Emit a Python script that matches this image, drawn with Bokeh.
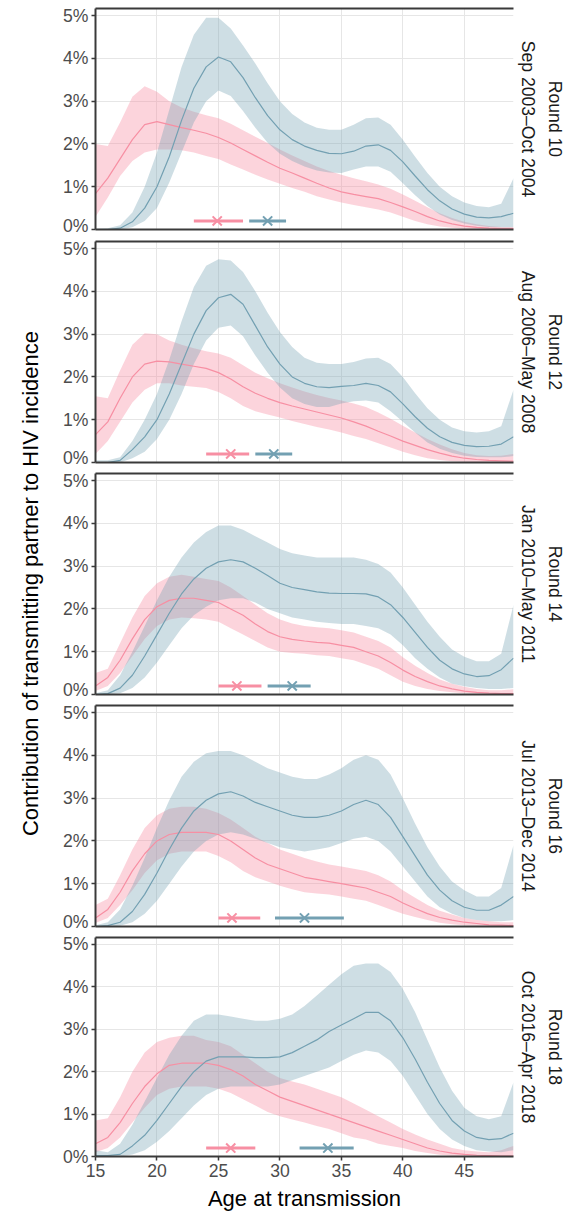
from math import pi

from bokeh.plotting import figure
from bokeh.layouts import column, row
from bokeh.models import FixedTicker, PrintfTickFormatter, LinearAxis, Title, Range1d
from bokeh.core.properties import value
from bokeh.embed import file_html
from bokeh.resources import INLINE

# Age grid (years) shared by every curve
ages = list(range(15, 50))

# Facet labels
round_names = ["Round 10", "Round 12", "Round 14", "Round 16", "Round 18"]
round_periods = ["Sep 2003\u2013Oct 2004", "Aug 2006\u2013May 2008", "Jan 2010\u2013May 2011",
                 "Jul 2013\u2013Dec 2014", "Oct 2016\u2013Apr 2018"]

y_title = "Contribution of transmitting partner to HIV incidence"
x_title = "Age at transmission"

# Contribution (%) by age: women (pink) median / lower / upper, men (blue) median / lower / upper
r10_f_mid = [0.84, 1.2, 1.65, 2.1, 2.45, 2.52, 2.45, 2.38, 2.32, 2.25, 2.15, 2.02, 1.87, 1.72, 1.57, 1.43, 1.32, 1.2,
             1.08, 0.97, 0.88, 0.82, 0.77, 0.72, 0.63, 0.53, 0.42, 0.3, 0.2, 0.13, 0.08, 0.05, 0.03, 0.02, 0.02]
r10_f_lo = [0.3, 0.75, 1.25, 1.6, 1.8, 1.87, 1.87, 1.85, 1.8, 1.72, 1.65, 1.52, 1.4, 1.28, 1.17, 1.07, 0.97, 0.88,
            0.78, 0.7, 0.63, 0.57, 0.52, 0.47, 0.4, 0.3, 0.2, 0.12, 0.07, 0.04, 0.02, 0.01, 0.0, 0.0, 0.0]
r10_f_hi = [2.0, 1.95, 2.5, 3.1, 3.35, 3.22, 3.0, 2.85, 2.75, 2.67, 2.6, 2.47, 2.32, 2.17, 2.02, 1.87, 1.73, 1.6,
            1.47, 1.37, 1.28, 1.2, 1.13, 1.05, 0.95, 0.82, 0.67, 0.52, 0.38, 0.27, 0.18, 0.12, 0.08, 0.06, 0.06]
r10_m_mid = [0.0, 0.0, 0.03, 0.18, 0.5, 1.0, 1.7, 2.55, 3.3, 3.8, 4.03, 3.92, 3.55, 3.08, 2.66, 2.33, 2.1, 1.95,
             1.85, 1.78, 1.77, 1.83, 1.95, 1.98, 1.85, 1.58, 1.25, 0.93, 0.67, 0.48, 0.36, 0.29, 0.27, 0.3, 0.38]
r10_m_lo = [0.0, 0.0, 0.0, 0.05, 0.2, 0.5, 1.1, 1.8, 2.5, 3.0, 3.25, 3.12, 2.77, 2.38, 2.03, 1.77, 1.6, 1.47,
            1.38, 1.33, 1.32, 1.4, 1.47, 1.47, 1.35, 1.08, 0.8, 0.55, 0.35, 0.22, 0.14, 0.09, 0.06, 0.05, 0.05]
r10_m_hi = [0.02, 0.03, 0.1, 0.4, 1.0, 1.8, 2.8, 3.8, 4.55, 4.95, 4.95, 4.7, 4.3, 3.88, 3.42, 3.0, 2.7, 2.5,
            2.38, 2.33, 2.33, 2.45, 2.6, 2.62, 2.45, 2.1, 1.7, 1.32, 1.0, 0.78, 0.63, 0.55, 0.52, 0.6, 1.2]

r12_f_mid = [0.65, 0.95, 1.5, 2.0, 2.3, 2.37, 2.35, 2.3, 2.25, 2.2, 2.1, 1.95, 1.77, 1.62, 1.5, 1.4, 1.32, 1.25,
             1.18, 1.11, 1.04, 0.95, 0.85, 0.73, 0.62, 0.5, 0.4, 0.3, 0.22, 0.15, 0.1, 0.07, 0.05, 0.04, 0.03]
r12_f_lo = [0.2, 0.5, 0.95, 1.4, 1.7, 1.85, 1.85, 1.8, 1.77, 1.74, 1.65, 1.5, 1.32, 1.2, 1.12, 1.05, 0.97, 0.9,
            0.83, 0.77, 0.7, 0.62, 0.55, 0.45, 0.35, 0.25, 0.17, 0.1, 0.06, 0.03, 0.02, 0.01, 0.0, 0.0, 0.0]
r12_f_hi = [1.55, 1.5, 2.15, 2.75, 3.02, 3.0, 2.85, 2.75, 2.67, 2.6, 2.55, 2.45, 2.27, 2.1, 1.97, 1.85, 1.75, 1.66,
            1.58, 1.51, 1.45, 1.38, 1.3, 1.17, 1.02, 0.86, 0.7, 0.55, 0.42, 0.31, 0.22, 0.17, 0.15, 0.16, 0.2]
r12_m_mid = [0.0, 0.0, 0.05, 0.3, 0.6, 1.0, 1.6, 2.3, 3.0, 3.55, 3.85, 3.93, 3.7, 3.2, 2.7, 2.3, 2.0, 1.85,
             1.77, 1.75, 1.78, 1.8, 1.85, 1.8, 1.65, 1.37, 1.07, 0.8, 0.6, 0.47, 0.4, 0.37, 0.38, 0.43, 0.6]
r12_m_lo = [0.0, 0.0, 0.0, 0.1, 0.25, 0.55, 1.0, 1.6, 2.3, 2.85, 3.15, 3.2, 2.95, 2.5, 2.1, 1.75, 1.5, 1.37,
            1.3, 1.3, 1.38, 1.43, 1.45, 1.4, 1.2, 0.95, 0.7, 0.47, 0.32, 0.22, 0.16, 0.13, 0.12, 0.12, 0.15]
r12_m_hi = [0.05, 0.05, 0.12, 0.5, 1.0, 1.6, 2.4, 3.3, 4.1, 4.6, 4.75, 4.72, 4.45, 4.0, 3.5, 3.05, 2.7, 2.45,
            2.33, 2.3, 2.3, 2.35, 2.43, 2.45, 2.3, 2.0, 1.62, 1.27, 1.0, 0.82, 0.73, 0.7, 0.73, 0.85, 1.7]

r14_f_mid = [0.2, 0.4, 0.8, 1.3, 1.75, 2.05, 2.2, 2.25, 2.25, 2.2, 2.15, 2.0, 1.85, 1.65, 1.47, 1.35, 1.29, 1.25,
             1.22, 1.2, 1.15, 1.1, 1.0, 0.9, 0.75, 0.57, 0.42, 0.3, 0.2, 0.13, 0.08, 0.05, 0.03, 0.02, 0.02]
r14_f_lo = [0.08, 0.2, 0.5, 0.9, 1.3, 1.6, 1.75, 1.8, 1.78, 1.75, 1.7, 1.55, 1.4, 1.25, 1.1, 1.0, 0.97, 0.95,
            0.92, 0.9, 0.85, 0.8, 0.7, 0.6, 0.45, 0.3, 0.2, 0.13, 0.08, 0.05, 0.03, 0.02, 0.01, 0.0, 0.0]
r14_f_hi = [0.5, 0.6, 1.2, 1.8, 2.3, 2.6, 2.75, 2.8, 2.75, 2.7, 2.65, 2.5, 2.3, 2.1, 1.9, 1.75, 1.66, 1.6,
            1.57, 1.55, 1.5, 1.45, 1.35, 1.25, 1.1, 0.87, 0.67, 0.5, 0.35, 0.25, 0.18, 0.13, 0.1, 0.1, 0.12]
r14_m_mid = [0.0, 0.02, 0.15, 0.45, 0.9, 1.4, 1.9, 2.35, 2.7, 2.95, 3.1, 3.15, 3.1, 2.95, 2.78, 2.6, 2.5, 2.45,
             2.4, 2.37, 2.36, 2.36, 2.35, 2.28, 2.1, 1.8, 1.45, 1.1, 0.8, 0.6, 0.48, 0.42, 0.44, 0.58, 0.85]
r14_m_lo = [0.0, 0.0, 0.03, 0.15, 0.4, 0.75, 1.15, 1.55, 1.85, 2.05, 2.2, 2.25, 2.25, 2.15, 2.0, 1.9, 1.8, 1.75,
            1.7, 1.67, 1.65, 1.65, 1.6, 1.55, 1.4, 1.15, 0.85, 0.6, 0.4, 0.25, 0.19, 0.15, 0.13, 0.13, 0.15]
r14_m_hi = [0.03, 0.1, 0.45, 1.0, 1.6, 2.2, 2.75, 3.2, 3.55, 3.8, 3.95, 3.95, 3.85, 3.7, 3.55, 3.4, 3.3, 3.25,
            3.2, 3.2, 3.2, 3.2, 3.15, 3.05, 2.85, 2.5, 2.1, 1.7, 1.35, 1.05, 0.88, 0.78, 0.78, 0.95, 2.1]

r16_f_mid = [0.2, 0.4, 0.8, 1.3, 1.7, 2.0, 2.15, 2.2, 2.2, 2.2, 2.15, 2.0, 1.8, 1.6, 1.45, 1.35, 1.25, 1.15,
             1.1, 1.05, 1.0, 0.95, 0.9, 0.8, 0.7, 0.55, 0.42, 0.3, 0.21, 0.15, 0.1, 0.07, 0.04, 0.03, 0.02]
r16_f_lo = [0.08, 0.2, 0.5, 0.85, 1.25, 1.55, 1.7, 1.75, 1.75, 1.75, 1.65, 1.5, 1.3, 1.15, 1.05, 0.95, 0.87, 0.8,
            0.77, 0.75, 0.7, 0.65, 0.6, 0.5, 0.4, 0.3, 0.22, 0.15, 0.09, 0.05, 0.03, 0.02, 0.01, 0.0, 0.0]
r16_f_hi = [0.5, 0.65, 1.2, 1.8, 2.3, 2.6, 2.75, 2.8, 2.8, 2.75, 2.65, 2.5, 2.3, 2.1, 1.95, 1.8, 1.7, 1.6,
            1.52, 1.45, 1.4, 1.35, 1.3, 1.2, 1.05, 0.85, 0.67, 0.5, 0.37, 0.28, 0.2, 0.15, 0.12, 0.1, 0.1]
r16_m_mid = [0.0, 0.02, 0.1, 0.35, 0.75, 1.25, 1.8, 2.3, 2.7, 2.95, 3.1, 3.15, 3.05, 2.9, 2.8, 2.7, 2.6, 2.55,
             2.55, 2.6, 2.7, 2.85, 2.95, 2.85, 2.55, 2.1, 1.65, 1.2, 0.85, 0.6, 0.45, 0.38, 0.38, 0.5, 0.7]
r16_m_lo = [0.0, 0.0, 0.02, 0.1, 0.3, 0.6, 1.0, 1.4, 1.75, 2.0, 2.15, 2.2, 2.15, 2.05, 1.95, 1.85, 1.8, 1.75,
            1.8, 1.85, 1.95, 2.05, 2.1, 2.0, 1.75, 1.4, 1.05, 0.7, 0.45, 0.3, 0.2, 0.15, 0.12, 0.12, 0.15]
r16_m_hi = [0.03, 0.1, 0.4, 0.95, 1.6, 2.3, 2.95, 3.5, 3.85, 4.05, 4.1, 4.1, 4.0, 3.85, 3.7, 3.6, 3.5, 3.45,
            3.45, 3.55, 3.7, 3.9, 4.0, 3.9, 3.55, 3.0, 2.4, 1.85, 1.4, 1.05, 0.85, 0.7, 0.7, 0.9, 1.9]

r18_f_mid = [0.3, 0.45, 0.8, 1.25, 1.65, 1.95, 2.15, 2.2, 2.2, 2.2, 2.15, 2.05, 1.9, 1.7, 1.55, 1.4, 1.3, 1.2,
             1.1, 1.0, 0.9, 0.8, 0.7, 0.6, 0.5, 0.4, 0.3, 0.2, 0.13, 0.08, 0.05, 0.03, 0.02, 0.01, 0.01]
r18_f_lo = [0.1, 0.2, 0.45, 0.8, 1.15, 1.45, 1.6, 1.65, 1.65, 1.65, 1.6, 1.5, 1.35, 1.2, 1.05, 0.95, 0.87, 0.8,
            0.72, 0.65, 0.55, 0.45, 0.4, 0.3, 0.25, 0.2, 0.13, 0.08, 0.04, 0.02, 0.01, 0.0, 0.0, 0.0, 0.0]
r18_f_hi = [0.85, 0.9, 1.4, 2.0, 2.45, 2.7, 2.8, 2.85, 2.85, 2.75, 2.7, 2.6, 2.4, 2.2, 2.0, 1.85, 1.77, 1.7,
            1.6, 1.5, 1.4, 1.25, 1.1, 0.95, 0.8, 0.65, 0.52, 0.4, 0.3, 0.2, 0.15, 0.12, 0.1, 0.15, 0.25]
r18_m_mid = [0.02, 0.02, 0.05, 0.25, 0.5, 0.85, 1.25, 1.65, 2.0, 2.25, 2.35, 2.35, 2.35, 2.33, 2.33, 2.35, 2.45,
             2.6, 2.75, 2.95, 3.1, 3.25, 3.4, 3.4, 3.2, 2.8, 2.3, 1.75, 1.25, 0.85, 0.6, 0.45, 0.4, 0.42, 0.55]
r18_m_lo = [0.0, 0.0, 0.0, 0.05, 0.15, 0.35, 0.6, 0.9, 1.2, 1.45, 1.6, 1.65, 1.65, 1.65, 1.65, 1.7, 1.8, 1.9,
            2.0, 2.1, 2.25, 2.4, 2.5, 2.45, 2.25, 1.9, 1.45, 1.0, 0.65, 0.4, 0.25, 0.15, 0.12, 0.1, 0.15]
r18_m_hi = [0.15, 0.1, 0.3, 0.75, 1.3, 1.85, 2.4, 2.85, 3.2, 3.35, 3.35, 3.3, 3.25, 3.2, 3.2, 3.25, 3.35, 3.55,
            3.8, 4.05, 4.3, 4.5, 4.55, 4.55, 4.35, 3.95, 3.4, 2.75, 2.1, 1.55, 1.15, 0.95, 0.88, 0.95, 1.75]

# Mean age of transmitting partners with interval, per round
f_mean_age = [24.9, 26.0, 26.5, 26.1, 26.0]
f_age_lo = [23.0, 24.0, 25.0, 25.0, 24.0]
f_age_hi = [27.0, 27.5, 28.5, 28.4, 28.0]
m_mean_age = [29.0, 29.5, 31.0, 32.0, 33.9]
m_age_lo = [27.5, 28.0, 29.0, 29.6, 31.6]
m_age_hi = [30.5, 31.0, 32.5, 35.2, 36.0]
marker_level = 0.2

x_ticks = [15, 20, 25, 30, 35, 40, 45]
y_ticks = [0, 1, 2, 3, 4, 5]

female = [(r10_f_mid, r10_f_lo, r10_f_hi), (r12_f_mid, r12_f_lo, r12_f_hi), (r14_f_mid, r14_f_lo, r14_f_hi),
          (r16_f_mid, r16_f_lo, r16_f_hi), (r18_f_mid, r18_f_lo, r18_f_hi)]
male = [(r10_m_mid, r10_m_lo, r10_m_hi), (r12_m_mid, r12_m_lo, r12_m_hi), (r14_m_mid, r14_m_lo, r14_m_hi),
        (r16_m_mid, r16_m_lo, r16_m_hi), (r18_m_mid, r18_m_lo, r18_m_hi)]

FONT = "Liberation Sans"
PINK = "#F78FA3"
BLUE = "#73A0B2"
AXIS = "#3A3A3A"
TICK_TXT = "#4D4D4D"
GRID = "#E6E6E6"
FRAME_H = 221
LABEL_W = 45

panels = []
for i in range(5):
    first, last = i == 0, i == 4
    top = 8 if first else 6
    bottom = 55 if last else (6 if first else 5)
    p = figure(width=567 - LABEL_W, height=top + FRAME_H + bottom, output_backend="svg", toolbar_location=None,
               x_range=Range1d(15, 49), y_range=Range1d(0, 5.165),
               min_border_left=95 - LABEL_W, min_border_right=52, min_border_top=top, min_border_bottom=bottom)
    p.outline_line_color = None

    # ribbons and central estimates
    fm, fl, fh = female[i]
    mm, ml, mh = male[i]
    p.varea(x=ages, y1=fl, y2=fh, fill_color=PINK, fill_alpha=0.38)
    p.varea(x=ages, y1=ml, y2=mh, fill_color=BLUE, fill_alpha=0.35)
    p.line(ages, fm, line_color=PINK, line_width=1.2)
    p.line(ages, mm, line_color=BLUE, line_width=1.2)

    # mean age markers with intervals
    p.segment(x0=[f_age_lo[i]], y0=[marker_level], x1=[f_age_hi[i]], y1=[marker_level],
              line_color=PINK, line_width=3)
    p.segment(x0=[m_age_lo[i]], y0=[marker_level], x1=[m_age_hi[i]], y1=[marker_level],
              line_color=BLUE, line_width=3)
    p.scatter([f_mean_age[i]], [marker_level], marker="x", size=13, line_color=PINK, line_width=2)
    p.scatter([m_mean_age[i]], [marker_level], marker="x", size=13, line_color=BLUE, line_width=2)

    # axes
    p.xaxis.ticker = FixedTicker(ticks=x_ticks if last else [])
    p.yaxis.ticker = FixedTicker(ticks=y_ticks)
    p.yaxis.formatter = PrintfTickFormatter(format="%d%%")
    for ax in (p.xaxis[0], p.yaxis[0]):
        ax.axis_line_color = AXIS
        ax.axis_line_width = 2
        ax.major_tick_line_color = AXIS
        ax.major_tick_line_width = 1.5
        ax.major_tick_in = 0
        ax.major_tick_out = 4
        ax.minor_tick_line_color = None
        ax.major_label_text_font = FONT
        ax.major_label_text_font_size = "17.6px"
        ax.major_label_text_color = TICK_TXT
        ax.major_label_standoff = 3
        ax.axis_label_text_font = FONT
        ax.axis_label_text_font_size = "22px"
        ax.axis_label_text_font_style = "normal"
        ax.axis_label_text_color = "black"
    if not last:
        p.xaxis.major_tick_out = 0
        p.xaxis.major_label_standoff = 0
    else:
        p.xaxis.axis_label = x_title
        p.xaxis.axis_label_standoff = 6

    # top border of the panel
    top_axis = LinearAxis(ticker=FixedTicker(ticks=[]), axis_line_color=AXIS, axis_line_width=2,
                          major_tick_out=0, major_tick_in=0, minor_tick_out=0, minor_tick_in=0,
                          major_label_standoff=0)
    p.add_layout(top_axis, "above")

    p.xgrid.ticker = FixedTicker(ticks=x_ticks)
    p.xgrid.grid_line_color = GRID
    p.ygrid.grid_line_color = GRID

    # facet strip text on the right
    for txt, sd in ((round_periods[i], 9), (round_names[i], 1)):
        p.add_layout(Title(text=txt, align="center", text_font=FONT, text_font_size="17.6px",
                           text_font_style="normal", text_color="#1A1A1A", standoff=sd), "right")
    panels.append(p)

stack = column(*panels, spacing=0)
total_h = sum(pp.height for pp in panels)

# shared y-axis title, centred on the stack of panels
ylab = figure(width=LABEL_W, height=total_h, output_backend="svg", toolbar_location=None,
              x_range=Range1d(0, LABEL_W), y_range=Range1d(total_h, 0),
              min_border=0, outline_line_color=None)
ylab.axis.visible = False
ylab.grid.visible = False
ylab.text(x=[30], y=[(8 + total_h - 55) / 2], text=[y_title], angle=pi / 2,
          text_align="center", text_baseline="middle", text_font=value(FONT),
          text_font_size="22px", text_color="black")

layout = row(ylab, stack, spacing=0)
open("out.html", "w").write(file_html(layout, INLINE))
